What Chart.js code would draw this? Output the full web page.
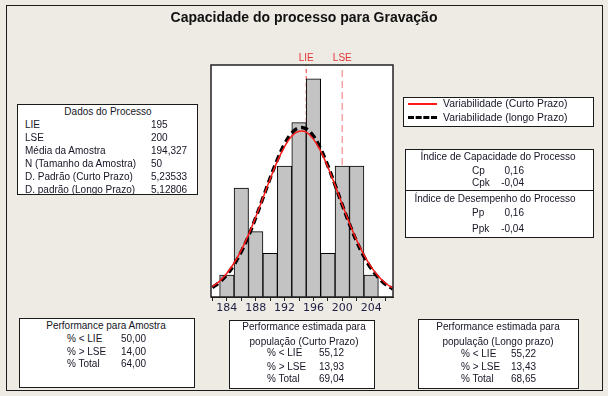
<!DOCTYPE html>
<html>
<head>
<meta charset="utf-8">
<script src="https://cdn.jsdelivr.net/npm/chart.js@4"></script>
<style>
body { margin: 0; width: 608px; height: 396px; overflow: hidden; position: relative; background: #eeeae4;
       font-family: "Liberation Sans", Arial, sans-serif; font-size: 10px; color: #151525; }
#frame { position: absolute; left: 6px; top: 5px; width: 597px; height: 386px; box-sizing: border-box; border: 1px solid #1a1a1a; }
#chart { position: absolute; left: 0; top: 0; }
.box { position: absolute; background: #fff; border: 1px solid #1a1a1a; box-sizing: border-box; }
.t { position: absolute; white-space: nowrap; line-height: 12px; height: 12px; }
.c { transform: translateX(-50%); }
.r { transform: translateX(-100%); }
#title { position: absolute; left: 304px; top: 9px; transform: translateX(-50%); font-weight: bold; font-size: 14px; white-space: nowrap; color: #111; }
.sw { position: absolute; width: 29px; height: 0; }
</style>
</head>
<body>
<div id="frame"></div>
<canvas id="chart" width="608" height="396"></canvas>
<div id="title">Capacidade do processo para Gravação</div>

<!-- Dados do processo -->
<div class="box" style="left:17px;top:104px;width:181px;height:91px"></div>
<div class="t c" style="left:108px;top:106px">Dados do Processo</div>
<div class="t" style="left:25px;top:119px">LIE</div>
<div class="t" style="left:25px;top:132px">LSE</div>
<div class="t" style="left:25px;top:145px">Média da Amostra</div>
<div class="t" style="left:25px;top:158px">N (Tamanho da Amostra)</div>
<div class="t" style="left:25px;top:171px">D. Padrão (Curto Prazo)</div>
<div class="t" style="left:25px;top:184px">D. padrão (Longo Prazo)</div>
<div class="t" style="left:151px;top:119px">195</div>
<div class="t" style="left:151px;top:132px">200</div>
<div class="t" style="left:151px;top:145px">194,327</div>
<div class="t" style="left:151px;top:158px">50</div>
<div class="t" style="left:151px;top:171px">5,23533</div>
<div class="t" style="left:151px;top:184px">5,12806</div>

<!-- Legenda -->
<div class="box" style="left:403px;top:97px;width:191px;height:30px"></div>
<div class="sw" style="left:408px;top:103px;border-top:2px solid #ff1a1a"></div>
<div class="sw" style="left:408px;top:116px;border-top:3px dashed #000"></div>
<div class="t" style="left:443px;top:98px;font-size:10.4px">Variabilidade (Curto Prazo)</div>
<div class="t" style="left:443px;top:112px;font-size:10.4px">Variabilidade (longo Prazo)</div>

<!-- Indices -->
<div class="box" style="left:405px;top:149px;width:189px;height:89px"></div>
<div style="position:absolute;left:405px;top:190px;width:189px;border-top:1px solid #1a1a1a"></div>
<div class="t c" style="left:498px;top:151px">Índice de Capacidade do Processo</div>
<div class="t" style="left:472px;top:165px">Cp</div>
<div class="t r" style="left:524px;top:165px">0,16</div>
<div class="t" style="left:472px;top:177px">Cpk</div>
<div class="t r" style="left:524px;top:177px">-0,04</div>
<div class="t c" style="left:495px;top:193px">Índice de Desempenho do Processo</div>
<div class="t" style="left:472px;top:207px">Pp</div>
<div class="t r" style="left:524px;top:207px">0,16</div>
<div class="t" style="left:472px;top:223px">Ppk</div>
<div class="t r" style="left:524px;top:223px">-0,04</div>

<!-- Performance para amostra -->
<div class="box" style="left:19px;top:318px;width:176px;height:70px"></div>
<div class="t c" style="left:106px;top:320px">Performance para Amostra</div>
<div class="t" style="left:67px;top:333px">% &lt; LIE</div>
<div class="t" style="left:67px;top:346px">% &gt; LSE</div>
<div class="t" style="left:67px;top:358px">% Total</div>
<div class="t" style="left:121px;top:333px">50,00</div>
<div class="t" style="left:121px;top:346px">14,00</div>
<div class="t" style="left:121px;top:358px">64,00</div>

<!-- Curto prazo -->
<div class="box" style="left:229px;top:320px;width:146px;height:69px"></div>
<div class="t c" style="left:304px;top:321px">Performance estimada para</div>
<div class="t c" style="left:304px;top:336px">população (Curto Prazo)</div>
<div class="t" style="left:267px;top:347px">% &lt; LIE</div>
<div class="t" style="left:267px;top:361px">% &gt; LSE</div>
<div class="t" style="left:267px;top:373px">% Total</div>
<div class="t" style="left:319px;top:347px">55,12</div>
<div class="t" style="left:319px;top:361px">13,93</div>
<div class="t" style="left:319px;top:373px">69,04</div>

<!-- Longo prazo -->
<div class="box" style="left:418px;top:319px;width:161px;height:70px"></div>
<div class="t c" style="left:498px;top:321px">Performance estimada para</div>
<div class="t c" style="left:498px;top:336px">população (Longo prazo)</div>
<div class="t" style="left:461px;top:348px">% &lt; LIE</div>
<div class="t" style="left:461px;top:361px">% &gt; LSE</div>
<div class="t" style="left:461px;top:373px">% Total</div>
<div class="t" style="left:511px;top:348px">55,22</div>
<div class="t" style="left:511px;top:361px">13,43</div>
<div class="t" style="left:511px;top:373px">68,65</div>

<script>
// histograma (centro da classe, largura 2)
const binCenters = [184, 186, 188, 190, 192, 194, 196, 198, 200, 202, 204];
const binCounts = [1, 5, 3, 2, 6, 8, 10, 2, 6, 6, 1];

// curvas normais
const curveX = [182, 183, 184, 185, 186, 187, 188, 189, 190, 191, 192, 193, 194,
                195, 196, 197, 198, 199, 200, 201, 202, 203, 204, 205, 206, 207];
const shortTerm = [0.48, 0.73, 1.09, 1.56, 2.15, 2.86, 3.67, 4.54, 5.41, 6.23, 6.90, 7.38, 7.60,
                   7.56, 7.24, 6.69, 5.96, 5.12, 4.24, 3.38, 2.60, 1.93, 1.38, 0.95, 0.63, 0.41];
const longTerm = [0.43, 0.68, 1.02, 1.49, 2.08, 2.80, 3.64, 4.54, 5.45, 6.30, 7.02, 7.52, 7.76,
                  7.71, 7.38, 6.79, 6.02, 5.14, 4.22, 3.34, 2.54, 1.86, 1.31, 0.89, 0.58, 0.37];

// limites de especificação
const specNames = ['LIE', 'LSE'];
const specValues = [195, 200];

const tickLabels = [184, 188, 192, 196, 200, 204];
const xMin = 181.8;
const xMax = 207.03;
const yMax = 10.64;

const plotFrame = {
    id: 'plotFrame',
    beforeDatasetsDraw(chart) {
        const { ctx, chartArea: a } = chart;
        ctx.save();
        ctx.fillStyle = '#fff';
        ctx.fillRect(a.left, a.top, a.width, a.height);
        ctx.restore();
    },
    afterDraw(chart) {
        const { ctx, chartArea: a, scales } = chart;
        ctx.save();
        ctx.strokeStyle = '#222';
        ctx.lineWidth = 1.5;
        ctx.strokeRect(a.left, a.top, a.width, a.height);
        ctx.fillStyle = '#e03535';
        ctx.font = '10px "Liberation Sans", Arial, sans-serif';
        ctx.textAlign = 'center';
        ctx.textBaseline = 'middle';
        specNames.forEach((name, i) => {
            ctx.fillText(name, scales.x.getPixelForValue(specValues[i]), a.top - 7);
        });
        ctx.restore();
    }
};

const specColors = ['#e83a3a', '#f4a2a2'];
const specDash = [[4, 3], [7, 4]];

const specSets = specNames.map((name, i) => ({
    type: 'line',
    label: name,
    data: [{ x: specValues[i], y: 0 }, { x: specValues[i], y: yMax }],
    borderColor: specColors[i],
    borderWidth: i === 0 ? 1 : 1.5,
    borderDash: specDash[i],
    pointRadius: 0,
    order: 3
}));

new Chart(document.getElementById('chart'), {
    type: 'bar',
    data: {
        datasets: [
            {
                type: 'line',
                label: 'Variabilidade (Curto Prazo)',
                data: curveX.map((x, i) => ({ x: x, y: shortTerm[i] })),
                borderColor: '#ff1a1a',
                borderWidth: 1.5,
                pointRadius: 0,
                tension: 0.4,
                order: 0
            },
            {
                type: 'line',
                label: 'Variabilidade (longo Prazo)',
                data: curveX.map((x, i) => ({ x: x, y: longTerm[i] })),
                borderColor: '#000',
                borderWidth: 3.5,
                borderDash: [7, 4],
                pointRadius: 0,
                tension: 0.4,
                order: 1
            },
            {
                type: 'bar',
                label: 'Frequência',
                data: binCenters.map((x, i) => ({ x: x, y: binCounts[i] })),
                backgroundColor: '#c3c3c3',
                borderColor: '#000',
                borderWidth: 1,
                barPercentage: 1,
                categoryPercentage: 1,
                order: 2
            },
            ...specSets
        ]
    },
    options: {
        responsive: false,
        animation: false,
        layout: { padding: { left: 211, right: 215, top: 65, bottom: 79 } },
        plugins: { legend: { display: false }, tooltip: { enabled: false } },
        scales: {
            x: {
                type: 'linear',
                min: xMin,
                max: xMax,
                offset: false,
                afterFit(scale) { scale.height = 20; },
                grid: { drawOnChartArea: false, drawTicks: true, tickLength: 4, color: '#222', offset: false },
                border: { display: true, color: '#222' },
                ticks: {
                    stepSize: 2,
                    includeBounds: false,
                    autoSkip: false,
                    maxRotation: 0,
                    padding: 1,
                    color: '#1f1f45',
                    font: { family: '"DejaVu Sans", sans-serif', size: 11 },
                    callback: (v) => tickLabels.includes(v) ? String(v) : ''
                }
            },
            y: {
                display: false,
                min: 0,
                max: yMax
            }
        }
    },
    plugins: [plotFrame]
});
</script>
</body>
</html>
